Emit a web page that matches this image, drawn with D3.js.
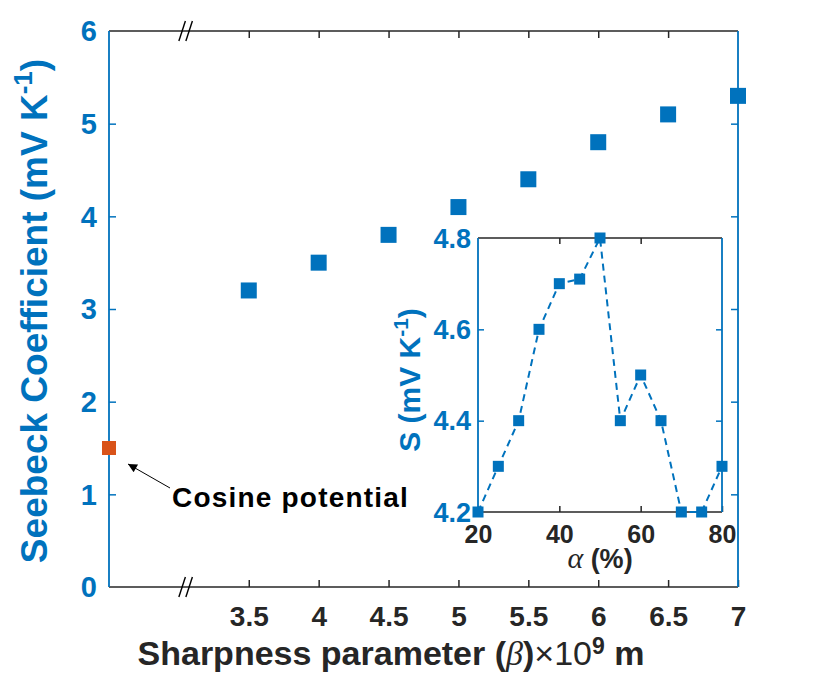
<!DOCTYPE html>
<html>
<head>
<meta charset="utf-8">
<script src="https://cdnjs.cloudflare.com/ajax/libs/d3/7.8.5/d3.min.js"></script>
<style>
  body { margin: 0; background: #fff; }
  text { font-family: "Liberation Sans", Arial, sans-serif; font-weight: bold; }
</style>
</head>
<body>
<div id="top"></div>
<script>
// main chart: sharpness parameter vs Seebeck coefficient
var beta = [3.5, 4, 4.5, 5, 5.5, 6, 6.5, 7];
var seebeck = [3.2, 3.5, 3.8, 4.1, 4.4, 4.8, 5.1, 5.3];
var cosineX = 2.5, cosineS = 1.5;
var xTicks = [3.5, 4, 4.5, 5, 5.5, 6, 6.5, 7];
var yTicks = [0, 1, 2, 3, 4, 5, 6];

// inset: alpha vs S
var alpha = [20, 25, 30, 35, 40, 45, 50, 55, 60, 65, 70, 75, 80];
var sInset = [4.2, 4.3, 4.4, 4.6, 4.7, 4.71, 4.8, 4.4, 4.5, 4.4, 4.2, 4.2, 4.3];
var alphaTicks = [20, 40, 60, 80];
var sTicks = [4.2, 4.4, 4.6, 4.8];

var blue = '#0072BD', orange = '#D95319', dark = '#262626';

var svg = d3.select('#top').append('svg').attr('width', 830).attr('height', 683);

var x = d3.scaleLinear().domain([2.5, 7]).range([109, 738]);
var y = d3.scaleLinear().domain([0, 6]).range([587, 31]);

function styleAxis(g, color) {
  g.select('.domain').remove();
  g.selectAll('.tick line').attr('stroke', color).attr('stroke-width', 1.5);
  g.selectAll('.tick text').attr('fill', color);
}

// bottom axis (black, ticks inward)
var gx = svg.append('g').attr('transform', 'translate(0,' + y(0) + ')')
  .call(d3.axisBottom(x).tickValues(xTicks).tickSizeInner(-7).tickSizeOuter(0).tickPadding(19).tickFormat(d3.format('')));
styleAxis(gx, dark);
gx.selectAll('.tick text').attr('font-size', 28).attr('dy', '0.71em');

var gxt = svg.append('g').attr('transform', 'translate(0,' + y(6) + ')')
  .call(d3.axisTop(x).tickValues(xTicks.slice(0, -1)).tickSizeInner(-7).tickSizeOuter(0).tickFormat(''));
styleAxis(gxt, dark);

var gy = svg.append('g').attr('transform', 'translate(' + x(2.5) + ',0)')
  .call(d3.axisLeft(y).tickValues(yTicks.slice(1, -1)).tickSizeInner(-7).tickSizeOuter(0).tickFormat(''));
styleAxis(gy, blue);
svg.append('g').selectAll('text').data(yTicks).join('text')
  .attr('x', 97).attr('y', function(d) { return y(d); }).attr('dy', '0.36em')
  .attr('text-anchor', 'end').attr('font-size', 29).attr('fill', blue).text(function(d) { return d; });

var gyr = svg.append('g').attr('transform', 'translate(' + x(7) + ',0)')
  .call(d3.axisRight(y).tickValues(yTicks.slice(1, -1)).tickSizeInner(-7).tickSizeOuter(0).tickFormat(''));
styleAxis(gyr, blue);

// frame lines
svg.append('line').attr('x1', x(2.5)).attr('x2', x(7)).attr('y1', y(0)).attr('y2', y(0)).attr('stroke', dark).attr('stroke-width', 1.5);
svg.append('line').attr('x1', x(2.5)).attr('x2', x(7)).attr('y1', y(6)).attr('y2', y(6)).attr('stroke', dark).attr('stroke-width', 1.5);
svg.append('line').attr('x1', x(2.5)).attr('x2', x(2.5)).attr('y1', y(0)).attr('y2', y(6)).attr('stroke', blue).attr('stroke-width', 1.8);
svg.append('line').attr('x1', x(7)).attr('x2', x(7)).attr('y1', y(0)).attr('y2', y(6)).attr('stroke', blue).attr('stroke-width', 1.8);

// axis break marks
var bx = x(3.05);
[y(0), y(6)].forEach(function(yy) {
  [-3.5, 3.5].forEach(function(o) {
    svg.append('line').attr('x1', bx + o - 3.5).attr('y1', yy + 10).attr('x2', bx + o + 3).attr('y2', yy - 10)
      .attr('stroke', '#000').attr('stroke-width', 1.4);
  });
});

// labels
var yl = svg.append('text').attr('transform', 'translate(47,311) rotate(-90)')
  .attr('text-anchor', 'middle').attr('font-size', 37).attr('fill', blue);
yl.append('tspan').text('Seebeck Coefficient (mV K');
yl.append('tspan').attr('font-size', 26).attr('dy', -15).text('-1');
yl.append('tspan').attr('dy', 15).text(')');

var xl = svg.append('text').attr('x', 391).attr('y', 665).attr('text-anchor', 'middle')
  .attr('font-size', 34).attr('fill', dark);
xl.append('tspan').text('Sharpness parameter (');
xl.append('tspan').attr('font-style', 'italic').attr('font-weight', 'normal').attr('font-family', 'Liberation Serif, serif').text('β');
xl.append('tspan').text(')');
xl.append('tspan').attr('font-weight', 'normal').text('×10');
xl.append('tspan').attr('font-size', 23).attr('dy', -11).text('9');
xl.append('tspan').attr('dy', 11).text(' m');

// markers
var ms = 16;
svg.append('g').selectAll('rect').data(beta).join('rect')
  .attr('x', function(d) { return x(d) - ms / 2; })
  .attr('y', function(d, i) { return y(seebeck[i]) - ms / 2; })
  .attr('width', ms).attr('height', ms).attr('fill', blue);
svg.append('rect').attr('x', x(cosineX) - 7).attr('y', y(cosineS) - 7).attr('width', 14).attr('height', 14).attr('fill', orange);

// annotation
svg.append('defs').append('marker').attr('id', 'ah').attr('viewBox', '0 0 10 10')
  .attr('refX', 10).attr('refY', 5).attr('markerWidth', 13).attr('markerHeight', 9)
  .attr('markerUnits', 'userSpaceOnUse').attr('orient', 'auto')
  .append('path').attr('d', 'M0,0 L10,5 L0,10 z').attr('fill', '#000');
svg.append('line').attr('x1', 170).attr('y1', 488).attr('x2', 128).attr('y2', 464)
  .attr('stroke', '#000').attr('stroke-width', 1).attr('marker-end', 'url(#ah)');
svg.append('text').attr('x', 172).attr('y', 507).attr('font-size', 28).attr('letter-spacing', 1.2)
  .attr('fill', '#000').text('Cosine potential');

// ---- inset ----
var ix = d3.scaleLinear().domain([20, 80]).range([478, 722]);
var iy = d3.scaleLinear().domain([4.2, 4.8]).range([512, 238]);

svg.append('rect').attr('x', ix(20)).attr('y', iy(4.8)).attr('width', ix(80) - ix(20)).attr('height', iy(4.2) - iy(4.8)).attr('fill', '#fff');

var igx = svg.append('g').attr('transform', 'translate(0,' + iy(4.2) + ')')
  .call(d3.axisBottom(ix).tickValues(alphaTicks).tickSizeInner(-6).tickSizeOuter(0).tickPadding(13));
styleAxis(igx, dark);
igx.selectAll('.tick text').attr('font-size', 25).attr('dy', '0.71em');
var igxt = svg.append('g').attr('transform', 'translate(0,' + iy(4.8) + ')')
  .call(d3.axisTop(ix).tickValues(alphaTicks.slice(1, -1)).tickSizeInner(-6).tickSizeOuter(0).tickFormat(''));
styleAxis(igxt, dark);
var igy = svg.append('g').attr('transform', 'translate(' + ix(20) + ',0)')
  .call(d3.axisLeft(iy).tickValues(sTicks.slice(1, -1)).tickSizeInner(-6).tickSizeOuter(0).tickFormat(''));
styleAxis(igy, blue);
var igyr = svg.append('g').attr('transform', 'translate(' + ix(80) + ',0)')
  .call(d3.axisRight(iy).tickValues(sTicks.slice(1, -1)).tickSizeInner(-6).tickSizeOuter(0).tickFormat(''));
styleAxis(igyr, blue);
svg.append('g').selectAll('text').data(sTicks).join('text')
  .attr('x', 471).attr('y', function(d) { return iy(d); }).attr('dy', '0.36em')
  .attr('text-anchor', 'end').attr('font-size', 27).attr('fill', blue).text(d3.format('.1f'));

svg.append('line').attr('x1', ix(20)).attr('x2', ix(80)).attr('y1', iy(4.2)).attr('y2', iy(4.2)).attr('stroke', dark).attr('stroke-width', 1.5);
svg.append('line').attr('x1', ix(20)).attr('x2', ix(80)).attr('y1', iy(4.8)).attr('y2', iy(4.8)).attr('stroke', dark).attr('stroke-width', 1.5);
svg.append('line').attr('x1', ix(20)).attr('x2', ix(20)).attr('y1', iy(4.2)).attr('y2', iy(4.8)).attr('stroke', blue).attr('stroke-width', 1.8);
svg.append('line').attr('x1', ix(80)).attr('x2', ix(80)).attr('y1', iy(4.2)).attr('y2', iy(4.8)).attr('stroke', blue).attr('stroke-width', 1.8);

var line = d3.line().x(function(d) { return ix(d); }).y(function(d, i) { return iy(sInset[i]); });
svg.append('path').datum(alpha).attr('d', line).attr('fill', 'none')
  .attr('stroke', blue).attr('stroke-width', 2).attr('stroke-dasharray', '7,5');
var ims = 11;
svg.append('g').selectAll('rect').data(alpha).join('rect')
  .attr('x', function(d) { return ix(d) - ims / 2; })
  .attr('y', function(d, i) { return iy(sInset[i]) - ims / 2; })
  .attr('width', ims).attr('height', ims).attr('fill', blue);

var iyl = svg.append('text').attr('transform', 'translate(420,380) rotate(-90)')
  .attr('text-anchor', 'middle').attr('font-size', 30).attr('fill', blue);
iyl.append('tspan').text('S (mV K');
iyl.append('tspan').attr('font-size', 21).attr('dy', -12).text('-1');
iyl.append('tspan').attr('dy', 12).text(')');

var ixl = svg.append('text').attr('x', 600).attr('y', 568).attr('text-anchor', 'middle')
  .attr('font-size', 27).attr('fill', dark);
ixl.append('tspan').attr('font-style', 'italic').attr('font-weight', 'normal').attr('font-family', 'Liberation Serif, serif').attr('font-size', 30).text('α');
ixl.append('tspan').text(' (%)');
</script>
</body>
</html>
